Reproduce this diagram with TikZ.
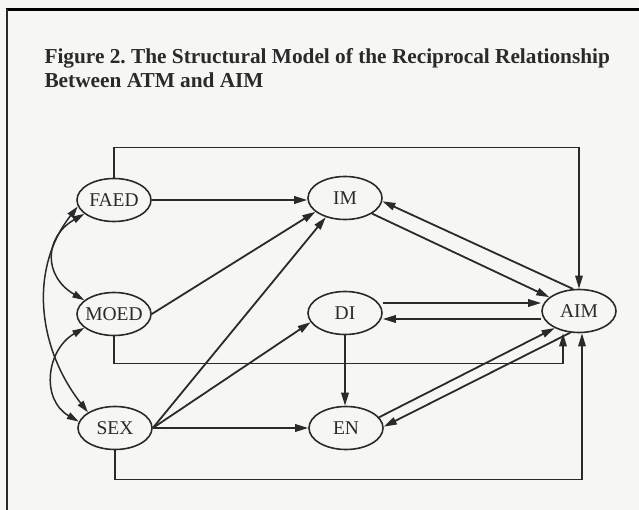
\documentclass[tikz,border=0pt]{standalone}
\usepackage{fontspec}
\setmainfont{Liberation Serif}
\usepackage{tikz}
\usetikzlibrary{shapes.geometric,arrows.meta}
\definecolor{inkgray}{HTML}{2A2A2A}
\definecolor{paper}{HTML}{F6F6F4}
\frenchspacing

\begin{document}
\begin{tikzpicture}[x=1pt, y=1pt,
    var/.style={draw=inkgray, ellipse, line width=1.6pt, minimum width=74pt,
      minimum height=43pt, inner sep=0pt, text=inkgray,
      font=\fontsize{19.5}{19.5}\selectfont},
    link/.style={draw=inkgray, line width=1.8pt,
      -{Triangle[length=13pt,width=7.5pt]}},
    both/.style={link, line width=1.5pt,
      {Triangle[length=12pt,width=7pt]}-{Triangle[length=12pt,width=7pt]}},
    feedback/.style={link, line width=1.4pt},
    heading/.style={anchor=base west, text=inkgray,
      font=\fontsize{21.3}{24}\selectfont\bfseries}]

    \fill[paper] (0,0) rectangle (639,-510);
    \useasboundingbox (0,0) rectangle (639,-510);

    \draw[line width=3pt, black] (6,-9.5) -- (639,-9.5);
    \draw[line width=1.8pt, inkgray] (7,-9.5) -- (7,-510);

    \node[heading] (title1) at (41,-64)
      {Figure 2. The Structural Model of the Reciprocal Relationship};
    \node[heading] (title2) at (41,-88) {Between ATM and AIM};

    \node[var] (FAED) at (114,-200) {\makebox[0pt]{FAED}};
    \node[var] (MOED) at (114,-314) {\makebox[0pt]{MOED}};
    \node[var] (SEX)  at (115,-428) {\makebox[0pt]{SEX}};
    \node[var] (IM)   at (345,-198) {\makebox[0pt]{IM}};
    \node[var] (DI)   at (345,-313) {\makebox[0pt]{DI}};
    \node[var] (EN)   at (346,-428) {\makebox[0pt]{EN}};
    \node[var] (AIM)  at (579,-311) {\makebox[0pt]{AIM}};

    \draw[both] (FAED.205) to[out=210, in=150, looseness=1.4] (MOED.155);
    \draw[both] (MOED.205) to[out=210, in=150, looseness=1.2] (SEX.170);
    \draw[both] (FAED.190) to[out=232, in=128] (SEX.150);

    \draw[link] (FAED.east) -- (FAED.east -| IM.west);
    \draw[link] (MOED.east) -- (IM.205);
    \draw[link] (SEX.east) -- (IM.225);
    \draw[link] (SEX.east) -- (DI.195);
    \draw[link] (SEX.east) -- (EN.west);
    \draw[link] (DI.south) -- (DI.south |- EN.north);

    \draw[link] (IM.330) -- (AIM.155);
    \draw[link] (AIM.105) -- (IM.355);
    \draw[link] ([yshift=10pt]DI.east) -- ([yshift=10pt]DI.east -| AIM.west);
    \draw[link] ([yshift=-6pt]DI.east -| AIM.west) -- ([yshift=-6pt]DI.east);
    \draw[link] (EN.18) -- (AIM.215);
    \draw[link] (AIM.248) -- (EN.2);

    \draw[feedback] (FAED.north) -- ++(0,30) -| (AIM.north);
    \draw[feedback] (MOED.south) -- ++(0,-27) -| ([xshift=-16pt]AIM.south);
    \draw[feedback] (SEX.south) -- ++(0,-29) -| ([xshift=3pt]AIM.south);
  \end{tikzpicture}
\end{document}
